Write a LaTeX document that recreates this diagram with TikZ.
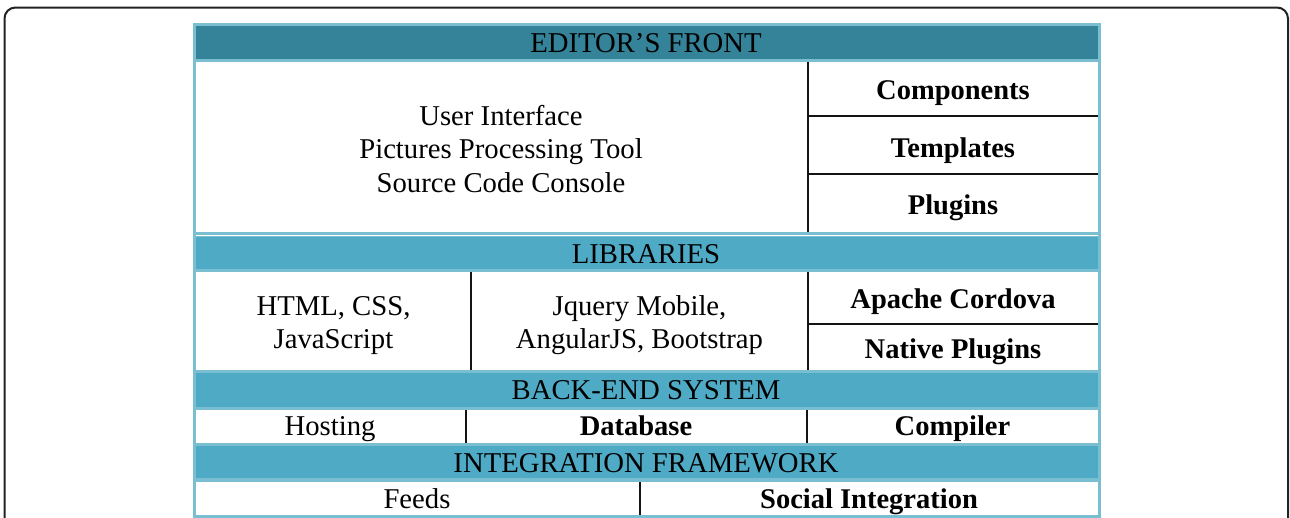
\documentclass[tikz,border=0pt]{standalone}
\usepackage{fontspec}
\setmainfont{Liberation Serif}
\definecolor{bordercol}{RGB}{122,190,210}
\definecolor{darkhead}{RGB}{52,131,152}
\definecolor{lighthead}{RGB}{79,170,198}
\definecolor{framecol}{RGB}{34,34,34}
\tikzset{
  band/.style={fill=#1, draw=none},
  divider/.style={draw=black!92, line width=1.6pt},
  txt/.style={anchor=base, inner sep=0pt, font=\fontsize{28.7}{33.5}\selectfont},
  btxt/.style={txt, font=\fontsize{28.5}{33.5}\selectfont\bfseries},
}
\begin{document}
\begin{tikzpicture}[x=1pt,y=-1pt]
\useasboundingbox (0,0) rectangle (1290,517);
\clip (0,0) rectangle (1290,517);
\fill[white] (0,0) rectangle (1290,517);
% outer rounded frame
\draw[framecol, line width=2pt, rounded corners=11pt] (4.5,7.5) rectangle (1288,560);
% table outer border
\fill[bordercol] (193,23) rectangle (1101,530);
% bands
\fill[band=darkhead] (196,26) rectangle (1098,59);
\fill[band=white] (196,62) rectangle (1098,232);
\draw[white, line width=1pt] (196,235.5) -- (1098,235.5);
\fill[band=lighthead] (196,237) rectangle (1098,269);
\fill[band=white] (196,272) rectangle (1098,370);
\fill[band=lighthead] (196,373) rectangle (1098,407);
\fill[band=white] (196,410) rectangle (1098,443);
\fill[band=lighthead] (196,446) rectangle (1098,478);
\fill[band=white] (196,482) rectangle (1098,515);
% dividers
\coordinate (e1) at (808,62); \coordinate (e2) at (808,232);
\coordinate (h1a) at (808,116); \coordinate (h1b) at (1098,116);
\coordinate (h2a) at (808,174); \coordinate (h2b) at (1098,174);
\draw[divider] (e1) -- (e2);
\draw[divider] (h1a) -- (h1b);
\draw[divider] (h2a) -- (h2b);
\coordinate (l1a) at (471,272); \coordinate (l1b) at (471,370);
\coordinate (l2a) at (808,272); \coordinate (l2b) at (808,370);
\coordinate (l3a) at (808,324); \coordinate (l3b) at (1098,324);
\draw[divider] (l1a) -- (l1b);
\draw[divider] (l2a) -- (l2b);
\draw[divider] (l3a) -- (l3b);
\coordinate (b1a) at (466,410); \coordinate (b1b) at (466,443);
\coordinate (b2a) at (807,410); \coordinate (b2b) at (807,443);
\draw[divider] (b1a) -- (b1b);
\draw[divider] (b2a) -- (b2b);
\coordinate (i1a) at (640,482); \coordinate (i1b) at (640,515);
\draw[divider] (i1a) -- (i1b);
% texts
\node[txt] (edhead) at (646,52.5) {EDITOR’S FRONT};
\node[txt] (ui1) at (501,125) {User Interface};
\node[txt] (ui2) at (501,158.5) {Pictures Processing Tool};
\node[txt] (ui3) at (501,192) {Source Code Console};
\node[btxt] (comp) at (953,99) {Components};
\node[btxt] (templ) at (953,157) {Templates};
\node[btxt] (plug) at (953,214.5) {Plugins};
\node[txt] (libhead) at (646,263) {LIBRARIES};
\node[txt] (html1) at (333.5,315) {HTML, CSS,};
\node[txt] (html2) at (333.5,348) {JavaScript};
\node[txt] (jq1) at (639.5,315) {Jquery Mobile,};
\node[txt] (jq2) at (639.5,348) {AngularJS, Bootstrap};
\node[btxt] (apache) at (953,308) {Apache Cordova};
\node[btxt] (native) at (953,358) {Native Plugins};
\node[txt] (behead) at (646,399.5) {BACK-END SYSTEM};
\node[txt] (host) at (330,435) {Hosting};
\node[btxt] (db) at (636,435) {Database};
\node[btxt] (comp2) at (952.5,435) {Compiler};
\node[txt] (inthead) at (646,472) {INTEGRATION FRAMEWORK};
\node[txt] (feeds) at (417,508) {Feeds};
\node[btxt] (social) at (869,508) {Social Integration};
\end{tikzpicture}
\end{document}
